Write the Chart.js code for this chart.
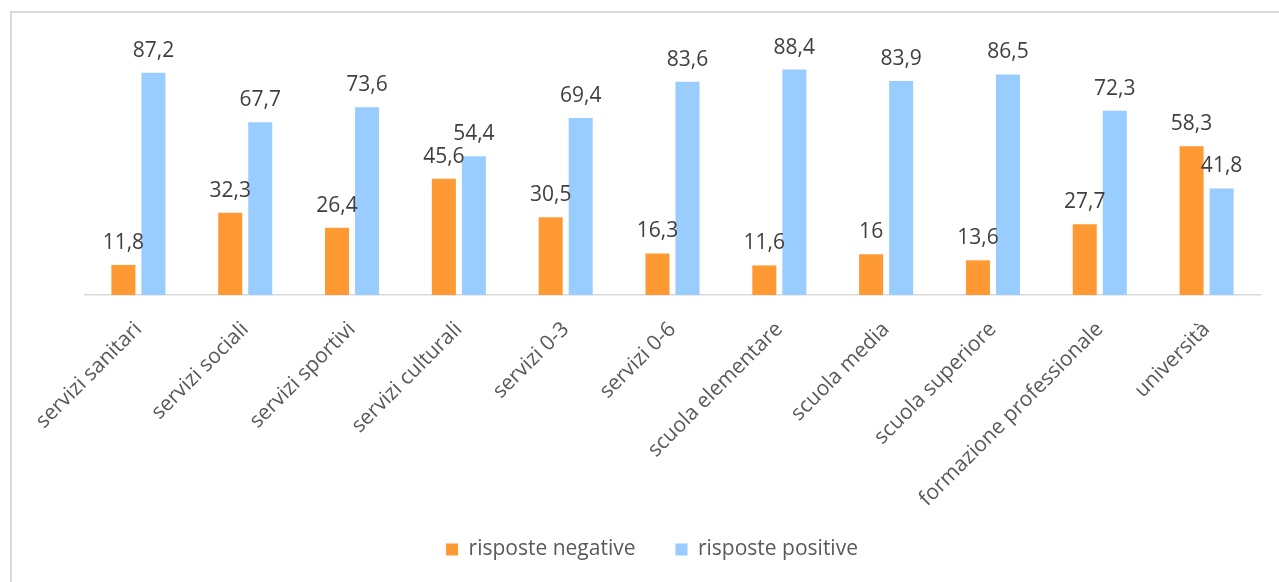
<!DOCTYPE html>
<html lang="it">
<head>
<meta charset="utf-8">
<title>Risposte per servizio</title>
<script src="https://cdn.jsdelivr.net/npm/chart.js@4.4.1/dist/chart.umd.min.js"></script>
<style>
    html, body {
        margin: 0;
        padding: 0;
        overflow: hidden;
        background: #ffffff;
    }
    .wrap {
        position: relative;
        width: 1279px;
        height: 582px;
    }
    .frame {
        position: absolute;
        left: 10px;
        top: 11px;
        width: 1400px;
        height: 700px;
        border: 2px solid #d9d9d9;
        pointer-events: none;
    }
</style>
</head>
<body>
<div class="wrap">
    <canvas id="myChart" width="1279" height="582"></canvas>
    <div class="frame"></div>
</div>

<script>
const categories = [
    'servizi sanitari',
    'servizi sociali',
    'servizi sportivi',
    'servizi culturali',
    'servizi 0-3',
    'servizi 0-6',
    'scuola elementare',
    'scuola media',
    'scuola superiore',
    'formazione professionale',
    'università'
];

const negative = [11.8, 32.3, 26.4, 45.6, 30.5, 16.3, 11.6, 16, 13.6, 27.7, 58.3];
const positive = [87.2, 67.7, 73.6, 54.4, 69.4, 83.6, 88.4, 83.9, 86.5, 72.3, 41.8];

const font = "'Open Sans', sans-serif";

// etichette dei valori sopra le barre
const valueLabels = {
    id: 'valueLabels',
    afterDatasetsDraw(chart) {
        const ctx = chart.ctx;
        ctx.save();
        ctx.font = '21px ' + font;
        ctx.fillStyle = '#404040';
        ctx.textAlign = 'center';
        ctx.textBaseline = 'alphabetic';
        chart.data.datasets.forEach((ds, i) => {
            chart.getDatasetMeta(i).data.forEach((bar, j) => {
                const txt = String(ds.data[j]).replace('.', ',');
                ctx.fillText(txt, bar.x, bar.y - 16);
            });
        });
        ctx.restore();
    }
};

const data = {
    labels: categories,
    datasets: [{
        label: 'risposte negative',
        backgroundColor: '#FF9933',
        data: negative,
        categoryPercentage: 0.562,
        barPercentage: 0.8
    },
    {
        label: 'risposte positive',
        backgroundColor: '#99CCFF',
        data: positive,
        categoryPercentage: 0.562,
        barPercentage: 0.8
    }]
};

const config = {
    type: 'bar',
    data: data,
    plugins: [valueLabels],
    options: {
        responsive: false,
        animation: false,
        layout: {
            padding: { left: 25, right: 0, top: 40, bottom: 12 }
        },
        scales: {
            x: {
                grid: { display: false },
                border: { display: true, color: '#d9d9d9', width: 1.5 },
                ticks: {
                    minRotation: 45,
                    maxRotation: 45,
                    autoSkip: false,
                    padding: 14,
                    color: '#595959',
                    font: { family: font, size: 21 }
                },
                afterFit(scale) {
                    scale.height = 204;
                    scale.paddingLeft = 85;
                    scale.paddingRight = 19;
                    // le etichette lunghe scendono sotto l'asse: niente ritaglio
                    scale._computeLabelArea = () => null;
                }
            },
            y: {
                display: false,
                min: 0,
                max: 100
            }
        },
        plugins: {
            tooltip: { enabled: false },
            legend: {
                position: 'bottom',
                labels: {
                    color: '#595959',
                    boxWidth: 12,
                    boxHeight: 12,
                    padding: 40,
                    font: { family: font, size: 21 }
                }
            }
        }
    }
};

const myChart = new Chart(
    document.getElementById('myChart'),
    config
);
</script>
</body>
</html>
